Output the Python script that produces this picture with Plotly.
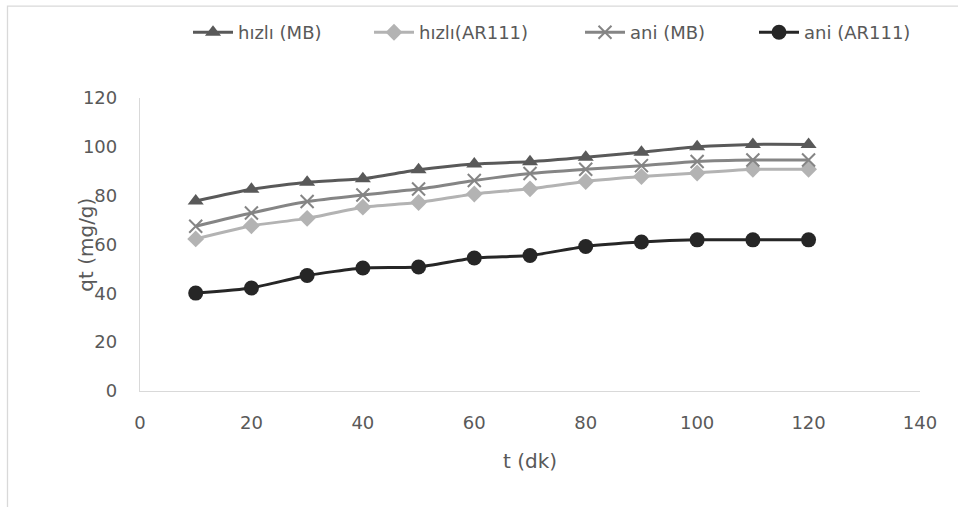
import plotly.graph_objects as go

# Adsorption kinetics: time (min) vs uptake qt (mg/g)
t_dk = [10, 20, 30, 40, 50, 60, 70, 80, 90, 100, 110, 120]
hizli_mb = [77.8, 82.6, 85.5, 86.9, 90.6, 93.0, 93.9, 95.7, 97.8, 100.0, 101.0, 101.0]
hizli_ar111 = [62.3, 67.7, 70.7, 75.3, 77.2, 80.7, 82.8, 85.8, 87.8, 89.3, 90.8, 90.8]
ani_mb = [67.5, 72.9, 77.6, 80.3, 82.7, 86.2, 89.1, 90.8, 92.3, 94.0, 94.6, 94.6]
ani_ar111 = [40.1, 42.2, 47.3, 50.4, 50.8, 54.5, 55.5, 59.2, 61.0, 61.9, 61.9, 61.9]

x_ticks = [0, 20, 40, 60, 80, 100, 120, 140]
y_ticks = [0, 20, 40, 60, 80, 100, 120]

W, H = 958, 507
L, R, T, B = 140, 38, 98, 115.5
FONT = "DejaVu Sans"
TXT = "#595959"

series = [
    ("hızlı (MB)", hizli_mb, "#595959",
     dict(symbol="triangle-up", size=14), 188),
    ("hızlı(AR111)", hizli_ar111, "#b3b3b3",
     dict(symbol="diamond", size=13), 369),
    ("ani (MB)", ani_mb, "#858585",
     dict(symbol="x-thin-open", size=13, line=dict(width=2, color="#858585")), 580),
    ("ani (AR111)", ani_ar111, "#262626",
     dict(symbol="circle", size=15), 754),
]

fig = go.Figure()
layout_legends = {}
for i, (name, vals, col, mk, lx) in enumerate(series):
    key = f"legend{i + 2}"
    fig.add_trace(go.Scatter(
        x=t_dk, y=vals, name=name, mode="lines+markers",
        line=dict(color=col, width=3, shape="spline", smoothing=0.5),
        marker=dict(color=col, **mk),
        legend=key,
    ))
    layout_legends[key] = dict(
        x=lx / W, xref="container", xanchor="left",
        y=1 - 14 / H, yref="container", yanchor="top",
        orientation="h", bgcolor="rgba(0,0,0,0)",
        font=dict(family=FONT, size=18, color=TXT),
        itemwidth=40,
    )

axis_common = dict(
    showgrid=False, zeroline=False, showline=True,
    linecolor="#d9d9d9", linewidth=1.3, ticks="",
    tickfont=dict(family=FONT, size=18, color=TXT),
)

fig.update_layout(
    width=W, height=H,
    margin=dict(l=L, r=R, t=T, b=B, pad=0),
    paper_bgcolor="white", plot_bgcolor="white",
    showlegend=True,
    xaxis=dict(range=[0, 140], tickvals=x_ticks, ticklabelstandoff=15,
               title=dict(text="t (dk)", standoff=22,
                          font=dict(family=FONT, size=20, color=TXT)),
               **axis_common),
    yaxis=dict(range=[0, 120], tickvals=y_ticks, ticklabelstandoff=18,
               **axis_common),
    **layout_legends,
)

# y-axis title placed beside the tick labels
fig.add_annotation(
    text="qt (mg/g)", textangle=-90, showarrow=False,
    xref="paper", yref="paper",
    x=(86 - L) / (W - L - R), y=(391.5 - 245) / (391.5 - T),
    xanchor="center", yanchor="middle",
    font=dict(family=FONT, size=20, color=TXT),
)

# chart frame
pw, ph = W - L - R, 391.5 - T
fig.add_shape(
    type="rect", xref="paper", yref="paper",
    x0=(7.5 - L) / pw, x1=(965 - L) / pw,
    y0=(391.5 - 515) / ph, y1=(391.5 - 6) / ph,
    line=dict(color="#d9d9d9", width=1.3), fillcolor="rgba(0,0,0,0)",
    layer="below",
)

fig.write_html("out.html")
